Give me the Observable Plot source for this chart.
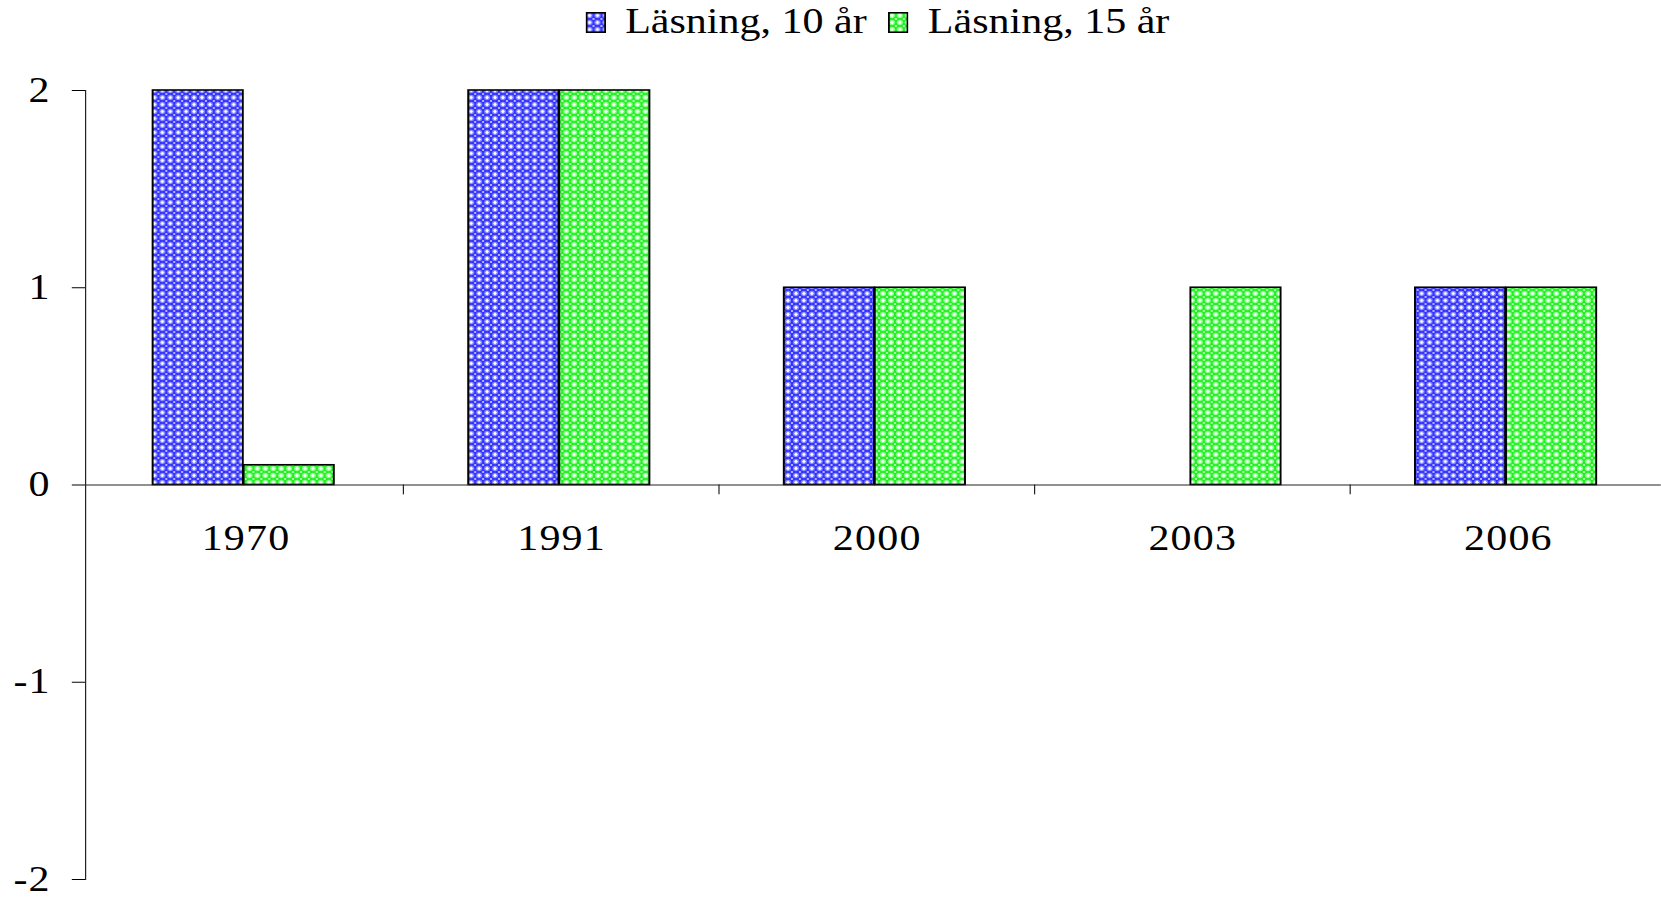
<!DOCTYPE html>
<html><head><meta charset="utf-8">
<script src="https://cdn.jsdelivr.net/npm/d3@7"></script>
<script src="https://cdn.jsdelivr.net/npm/@observablehq/plot@0.6"></script>
<style>
html,body{margin:0;padding:0;background:#fff;overflow:hidden;}
#wrap{position:absolute;left:0;top:0;transform:scaleX(1.2);transform-origin:0 0;font-family:"Liberation Serif","Times New Roman",serif;color:#000;}
#legend{position:relative;height:45px;}
#legrow{position:absolute;left:488px;top:2px;display:flex;align-items:center;font-size:35px;line-height:40px;white-space:nowrap;}
.sw{margin-right:16px;display:block;}
.item{display:flex;align-items:center;}
.item + .item{margin-left:18px;}
#chart svg text{letter-spacing:1px;}
</style>
</head><body>
<svg width="0" height="0" style="position:absolute">
<defs>
<pattern id="pBlue" patternUnits="userSpaceOnUse" width="6.6" height="7">
<rect width="6.6" height="7" fill="#3030ff"/>
<ellipse cx="3.3" cy="3.5" rx="2.6" ry="2.8" fill="#8080ff"/>
<rect x="2.6" y="1.8" width="1.4" height="3.4" fill="#fff"/>
<rect x="1.9" y="2.8" width="2.8" height="1.4" fill="#fff"/>
<circle cx="0" cy="0" r="1" fill="#c8c8ff"/>
<circle cx="6.6" cy="0" r="1" fill="#c8c8ff"/>
<circle cx="0" cy="7" r="1" fill="#c8c8ff"/>
<circle cx="6.6" cy="7" r="1" fill="#c8c8ff"/>
</pattern>
<pattern id="pGreen" patternUnits="userSpaceOnUse" width="6.6" height="7">
<rect width="6.6" height="7" fill="#20ee20"/>
<ellipse cx="3.3" cy="3.5" rx="2.6" ry="2.8" fill="#80ff80"/>
<rect x="2.6" y="1.8" width="1.4" height="3.4" fill="#fff"/>
<rect x="1.9" y="2.8" width="2.8" height="1.4" fill="#fff"/>
<circle cx="0" cy="0" r="1" fill="#c8ffc8"/>
<circle cx="6.6" cy="0" r="1" fill="#c8ffc8"/>
<circle cx="0" cy="7" r="1" fill="#c8ffc8"/>
<circle cx="6.6" cy="7" r="1" fill="#c8ffc8"/>
</pattern>
</defs>
</svg>
<div id="wrap">
<div id="legend"><div id="legrow"></div></div>
<div id="chart"></div>
</div>
<script>
// ---- data ----
const years = ["1970", "1991", "2000", "2003", "2006"];
const reading10 = [2, 2, 1, null, 1];
const reading15 = [0.1, 2, 1, 1, 1];
const seriesNames = ["Läsning, 10 år", "Läsning, 15 år"];
const seriesFills = ["url(#pBlue)", "url(#pGreen)"];
const yTicks = [-2, -1, 0, 1, 2];

// ---- layout ----
const S = 1.2;              // horizontal stretch of the reference
const W = 1661 / S;
const xLeft = 85 / S, xRight = 1667 / S;
const band = (xRight - xLeft) / years.length;
const barW = 91 / S;
const off = 65 / S;

const d10 = years.map((y, i) => ({year: y, value: reading10[i]})).filter(d => d.value != null);
const d15 = years.map((y, i) => ({year: y, value: reading15[i]})).filter(d => d.value != null);

const chart = Plot.plot({
  width: W,
  height: 855,
  marginTop: 45,
  marginBottom: 21,
  marginLeft: xLeft,
  marginRight: 0,
  style: {fontFamily: "'Liberation Serif','Times New Roman',serif", fontSize: "35px", color: "#000", background: "transparent"},
  x: {type: "band", domain: years, range: [xLeft, xRight], padding: 0, axis: null},
  y: {domain: [-2, 2], axis: null},
  marks: [
    Plot.barY(d10, {x: "year", y: "value", fill: seriesFills[0], stroke: "#000", strokeWidth: 1.6,
      insetLeft: off, insetRight: band - off - barW}),
    Plot.barY(d15, {x: "year", y: "value", fill: seriesFills[1], stroke: "#000", strokeWidth: 1.6,
      insetLeft: off + barW, insetRight: band - off - 2 * barW}),
    Plot.ruleY([0], {stroke: "#222", strokeWidth: 1}),
    Plot.frame({anchor: "left", stroke: "#222"}),
    Plot.axisY({ticks: yTicks, tickSize: 11, tickPadding: 18, tickFormat: d => String(d), fontSize: 35, anchor: "left", label: null}),
    Plot.ruleX(years.slice(1), {x: d => d, y1: () => 0, y2: () => -0.05, dx: -band / 2, stroke: "#222"}),
    Plot.text(years, {x: d => d, y: () => 0, dy: 54, text: d => d, fontSize: 35})
  ]
});
document.getElementById("chart").appendChild(chart);

const row = document.getElementById("legrow");
seriesNames.forEach((name, i) => {
  const item = document.createElement("div");
  item.className = "item";
  item.innerHTML = `<svg class="sw" width="17" height="21"><rect x="0.75" y="0.75" width="15.5" height="19.5" fill="${seriesFills[i]}" stroke="#000" stroke-width="1.5"/></svg><span>${name}</span>`;
  row.appendChild(item);
});
</script>
</body></html>
